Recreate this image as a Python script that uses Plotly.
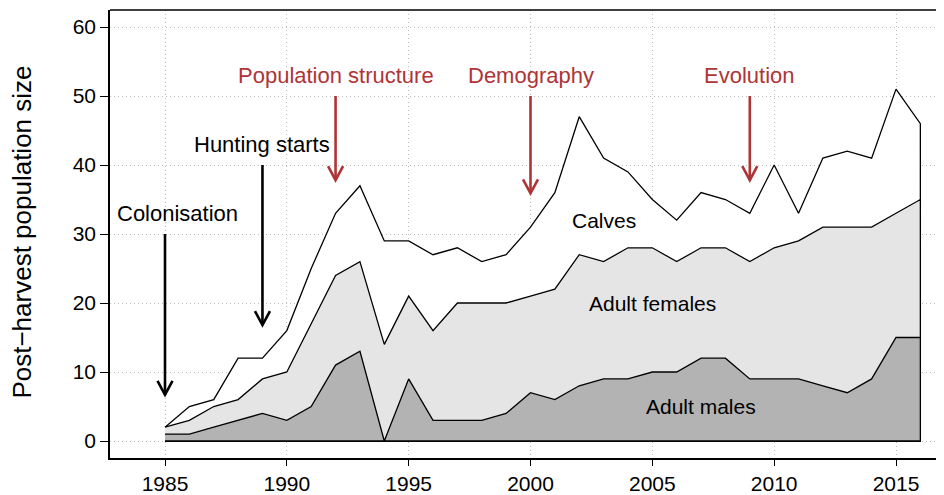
import plotly.graph_objects as go

years = list(range(1985, 2017))
total = [2, 5, 6, 12, 12, 16, 25, 33, 37, 29, 29, 27, 28, 26, 27, 31, 36, 47, 41, 39,
         35, 32, 36, 35, 33, 40, 33, 41, 42, 41, 51, 46]
females_plus_males = [2, 3, 5, 6, 9, 10, 17, 24, 26, 14, 21, 16, 20, 20, 20, 21, 22, 27, 26, 28,
                      28, 26, 28, 28, 26, 28, 29, 31, 31, 31, 33, 35]
males = [1, 1, 2, 3, 4, 3, 5, 11, 13, 0, 9, 3, 3, 3, 4, 7, 6, 8, 9, 9,
         10, 10, 12, 12, 9, 9, 9, 8, 7, 9, 15, 15]

layer_names = ["Calves", "Adult females", "Adult males"]
layer_colors = ["#ffffff", "#e5e5e5", "#b3b3b3"]

events = ["Colonisation", "Hunting starts", "Population structure", "Demography", "Evolution"]
event_years = [1985, 1989, 1992, 2000, 2009]
event_label_x = [1985.5, 1989.0, 1992.0, 2000.0, 2009.0]
event_label_y = [33.0, 43.0, 53.0, 53.0, 53.0]
event_top = [30.0, 40.0, 50.0, 50.0, 50.0]
event_tip = [6.7, 16.8, 37.8, 35.9, 37.8]
event_colors = ["#000000", "#000000", "#ae3436", "#ae3436", "#ae3436"]

layer_label_x = [2003.0, 2005.0, 2007.0]
layer_label_y = [32.0, 20.0, 5.0]

xticks = [1985, 1990, 1995, 2000, 2005, 2010, 2015]
yticks = [0, 10, 20, 30, 40, 50, 60]

FONT = "Liberation Sans, Arial, Helvetica, sans-serif"

fig = go.Figure()
for name, vals, col in zip(layer_names, [total, females_plus_males, males], layer_colors):
    xs = years + [years[-1], years[0]]
    ys = vals + [0, 0]
    fig.add_trace(go.Scatter(x=xs, y=ys, fill="toself", fillcolor=col, mode="lines",
                             line=dict(color="black", width=1.3), name=name,
                             hoverinfo="skip", showlegend=False))

shapes = []
annotations = []
for ev, yr, lx, ly, top, tip, col in zip(events, event_years, event_label_x, event_label_y,
                                          event_top, event_tip, event_colors):
    shapes.append(dict(type="line", xref="x", yref="y", x0=yr, x1=yr, y0=top, y1=tip,
                       line=dict(color=col, width=2.6), layer="above"))
    shapes.append(dict(type="path", xref="x", yref="y", xsizemode="pixel", ysizemode="pixel",
                       xanchor=yr, yanchor=tip, path="M-7.5,14 L0,0 L7.5,14",
                       line=dict(color=col, width=2.6), layer="above"))
    annotations.append(dict(x=lx, y=ly, xref="x", yref="y", text=ev, showarrow=False,
                            font=dict(family=FONT, size=22, color=col)))

for name, lx, ly in zip(layer_names, layer_label_x, layer_label_y):
    annotations.append(dict(x=lx, y=ly, xref="x", yref="y", text=name, showarrow=False,
                            font=dict(family=FONT, size=21, color="black")))

annotations.append(dict(x=0, xref="paper", xshift=-88, xanchor="center", y=30.2, yref="y",
                        yanchor="middle", text="Post\u2212harvest population size", textangle=-90,
                        showarrow=False, font=dict(family=FONT, size=26, color="black")))

# top frame line
shapes.append(dict(type="line", xref="paper", yref="paper", x0=0, x1=1, y0=1, y1=1,
                   line=dict(color="black", width=1.5)))

GRID = dict(showgrid=True, gridcolor="#bdbdbd", griddash="1px,3px", gridwidth=1)

# the page body has an 8px margin, so the figure is 8px smaller than the window
fig.update_layout(
    width=936, height=487,
    margin=dict(l=102, r=0, t=2, b=37, autoexpand=False),
    plot_bgcolor="white", paper_bgcolor="white",
    shapes=shapes, annotations=annotations,
    font=dict(family=FONT, size=21, color="black"),
    xaxis=dict(range=[1982.743, 2016.97], tickvals=xticks, ticks="outside", ticklen=6,
               tickwidth=1.3, tickcolor="black", showline=True, linecolor="black", linewidth=1.5,
               zeroline=False, tickfont=dict(size=21), automargin=False, **GRID),
    yaxis=dict(range=[-2.464, 62.464], tickvals=yticks, ticks="outside", ticklen=8,
               tickwidth=1.3, tickcolor="black", showline=True, linecolor="black", linewidth=1.5,
               zeroline=False, tickfont=dict(size=21), automargin=False, **GRID),
)

fig.write_html("out.html")
